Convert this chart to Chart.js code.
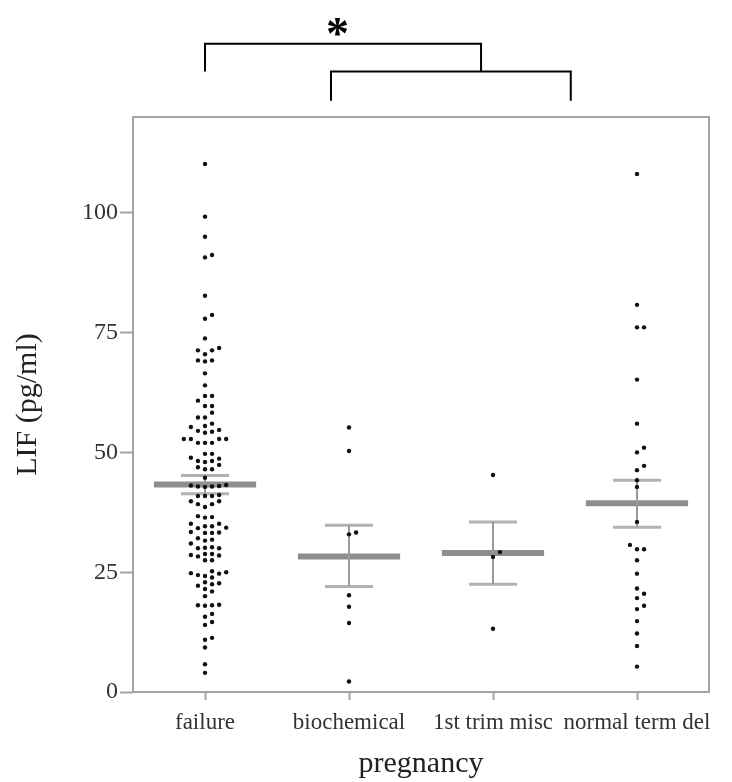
<!DOCTYPE html>
<html>
<head>
<meta charset="utf-8">
<script src="https://cdn.jsdelivr.net/npm/chart.js@4"></script>
<style>
  html, body { margin: 0; padding: 0; background: #fff; }
  #wrap { width: 732px; height: 782px; }
</style>
</head>
<body>
<div id="wrap"><canvas id="chart"></canvas></div>
<script>
const categories = ['failure', 'biochemical', '1st trim misc', 'normal term del'];

// LIF values (pg/ml)
const failure = [110.2, 99.2, 95.0, 90.7, 91.2, 82.7, 77.9, 78.7, 73.8, 71.8, 71.3, 71.3, 70.5,
    69.2, 69.0, 69.2, 66.5, 64.0, 61.8, 61.8, 60.8, 59.7, 59.7, 57.3, 57.3, 58.3, 56.0, 55.3,
    55.5, 54.3, 54.5, 54.1, 54.7, 52.8, 52.8, 52.8, 52.8, 52.0, 52.0, 52.0, 49.7, 49.7, 48.7,
    48.2, 48.2, 47.4, 48.0, 48.9, 46.9, 46.5, 46.5, 44.7, 43.2, 43.0, 42.9, 42.8, 42.9, 43.1,
    40.9, 40.9, 40.9, 41.1, 39.8, 39.2, 38.6, 39.2, 39.8, 36.7, 36.4, 36.5, 35.1, 34.6, 34.3,
    34.6, 35.1, 34.2, 33.2, 33.2, 33.3, 33.4, 32.1, 31.6, 31.0, 31.8, 30.0, 30.0, 30.1, 30.2,
    28.8, 28.3, 27.5, 27.5, 28.6, 28.8, 28.5, 25.2, 25.0, 24.8, 24.7, 24.2, 23.9, 24.4, 22.7,
    22.5, 22.9, 22.2, 21.5, 21.0, 20.0, 18.1, 18.0, 18.1, 18.2, 16.3, 15.7, 14.0, 14.6, 11.3,
    10.9, 9.3, 5.8, 4.0];
const biochemical = [55.2, 50.3, 32.9, 33.3, 20.2, 17.8, 14.4, 2.2];
const firstTrim = [45.3, 29.2, 28.2, 13.2];
const normalTerm = [108.1, 80.8, 76.1, 76.1, 65.2, 56.0, 51.0, 50.0, 46.3, 47.2, 44.2, 42.8,
    35.5, 29.8, 29.8, 30.7, 27.5, 24.7, 21.6, 20.5, 19.6, 17.3, 18.0, 14.8, 12.2, 9.6, 5.3];

const means = [43.3, 28.3, 29.0, 39.4];
const seHigh = [45.2, 34.8, 35.5, 44.2];
const seLow = [41.4, 22.0, 22.5, 34.4];
const yTicks = [0, 25, 50, 75, 100];

const groups = [failure, biochemical, firstTrim, normalTerm];
const axisGray = '#a3a3a3';
const serif = "'Liberation Serif', 'Times New Roman', serif";

// simple beeswarm: push dots sideways when they collide with a neighbour
function swarm(vals, center) {
    const step = 0.049, gap = 1.3;
    const order = [0, 1, -1, 2, -2, 3, -3, 4, -4];
    const placed = [];
    vals.slice().sort((a, b) => a - b).forEach(v => {
        let k = 0;
        for (const c of order) {
            if (!placed.some(p => p.k === c && Math.abs(p.v - v) < gap)) { k = c; break; }
        }
        placed.push({v: v, k: k});
    });
    return placed.map(p => ({x: center + p.k * step, y: p.v}));
}

function segs(fn) {
    const out = [];
    means.forEach((m, i) => { out.push(...fn(i)); out.push({x: i + 0.5, y: null}); });
    return out;
}

const meanLines = segs(i => [{x: i - 0.355, y: means[i]}, {x: i + 0.355, y: means[i]}]);
const stems = segs(i => [{x: i, y: seLow[i]}, {x: i, y: seHigh[i]}]);
const whiskers = segs(i => [
    {x: i - 0.167, y: seHigh[i]}, {x: i + 0.167, y: seHigh[i]}, {x: i + 0.2, y: null},
    {x: i - 0.167, y: seLow[i]}, {x: i + 0.167, y: seLow[i]}
]);

const dotSets = groups.map((g, i) => ({
    label: categories[i],
    data: swarm(g, i),
    pointRadius: 2.2,
    pointBackgroundColor: '#111',
    pointBorderWidth: 0,
    order: 0
}));

// significance brackets, in data units (x: category index, y: LIF)
const brackets = [
    {from: 0, to: 1.917, top: 135.3, drop: 129.5},
    {from: 0.875, to: 2.54, top: 129.5, drop: 123.4}
];

const framePlugin = {
    id: 'frame',
    beforeDatasetsDraw(chart) {
        const {ctx, chartArea: a} = chart;
        ctx.save();
        ctx.strokeStyle = axisGray;
        ctx.lineWidth = 2;
        ctx.strokeRect(a.left, a.top, a.right - a.left, a.bottom - a.top);
        ctx.restore();
    },
    afterDraw(chart) {
        const {ctx} = chart;
        const xs = chart.scales.x, ys = chart.scales.y;
        ctx.save();
        ctx.strokeStyle = '#000';
        ctx.lineWidth = 2;
        brackets.forEach(b => {
            const x1 = xs.getPixelForValue(b.from), x2 = xs.getPixelForValue(b.to);
            const yt = ys.getPixelForValue(b.top), yd = ys.getPixelForValue(b.drop);
            ctx.beginPath();
            ctx.moveTo(x1, yd);
            ctx.lineTo(x1, yt);
            ctx.lineTo(x2, yt);
            ctx.lineTo(x2, yd);
            ctx.stroke();
        });
        const b0 = brackets[0];
        const sx = xs.getPixelForValue(0.92);
        const sy = ys.getPixelForValue(b0.top);
        ctx.fillStyle = '#000';
        ctx.font = 'bold 46px ' + serif;
        ctx.textAlign = 'center';
        ctx.textBaseline = 'alphabetic';
        ctx.fillText('*', sx, sy + 5);
        ctx.restore();
    }
};

new Chart(document.getElementById('chart'), {
    type: 'scatter',
    data: {
        datasets: [
            ...dotSets,
            {
                label: 'mean',
                data: meanLines,
                showLine: true,
                spanGaps: false,
                borderColor: '#8e8e8e',
                borderWidth: 6,
                pointRadius: 0,
                order: 2
            },
            {
                label: 'se',
                data: stems,
                showLine: true,
                spanGaps: false,
                borderColor: '#9a9a9a',
                borderWidth: 2,
                pointRadius: 0,
                order: 1
            },
            {
                label: 'se caps',
                data: whiskers,
                showLine: true,
                spanGaps: false,
                borderColor: '#b2b2b2',
                borderWidth: 3,
                pointRadius: 0,
                order: 1
            }
        ]
    },
    options: {
        responsive: true,
        maintainAspectRatio: false,
        animation: false,
        layout: {
            padding: {top: 117, right: 23, left: 0, bottom: 0}
        },
        scales: {
            x: {
                type: 'linear',
                min: -0.5,
                max: 3.5,
                afterBuildTicks: s => { s.ticks = categories.map((c, i) => ({value: i})); },
                afterFit: s => { s.height = 90; },
                grid: {
                    drawOnChartArea: false,
                    drawTicks: true,
                    tickLength: 8,
                    tickColor: axisGray,
                    tickWidth: 2
                },
                border: {display: false},
                ticks: {
                    autoSkip: false,
                    maxRotation: 0,
                    padding: 9,
                    color: '#333',
                    font: {family: serif, size: 23},
                    callback: v => categories[v]
                },
                title: {
                    display: true,
                    text: 'pregnancy',
                    color: '#222',
                    font: {family: serif, size: 30},
                    padding: {top: 0, bottom: 0}
                }
            },
            y: {
                min: 0,
                max: 120,
                afterBuildTicks: s => { s.ticks = yTicks.map(v => ({value: v})); },
                afterFit: s => { s.width = 133; },
                grid: {
                    drawOnChartArea: false,
                    drawTicks: true,
                    tickLength: 13,
                    tickColor: axisGray,
                    tickWidth: 2
                },
                border: {display: false},
                ticks: {
                    padding: 2,
                    color: '#333',
                    font: {family: serif, size: 24}
                },
                title: {
                    display: true,
                    text: 'LIF (pg/ml)',
                    color: '#222',
                    font: {family: serif, size: 30},
                    padding: {top: 10, bottom: 0}
                }
            }
        },
        plugins: {
            legend: {display: false},
            tooltip: {enabled: false}
        }
    },
    plugins: [framePlugin]
});
</script>
</body>
</html>
